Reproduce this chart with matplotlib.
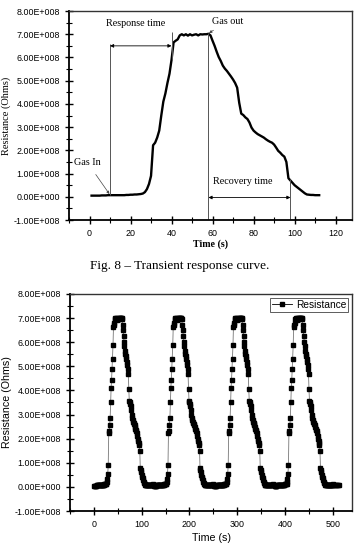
"""Transient response curve of the gas sensor (Fig. 8) and the repeated cycle plot below it."""
import matplotlib
matplotlib.use("Agg")
import matplotlib.pyplot as plt
import numpy as np
from matplotlib.ticker import MultipleLocator, FuncFormatter

# --- data (resistance in units of 1e8 Ohm) ---
TIME_S = list(range(1, 113))
RES_1E8 = [
    0.05, 0.05, 0.05, 0.05, 0.05, 0.06, 0.06, 0.06, 0.07,             # 1-9
    0.07, 0.07, 0.07, 0.07, 0.07, 0.07, 0.07, 0.07, 0.08, 0.08,       # 10-19
    0.09, 0.09, 0.10, 0.10, 0.11, 0.12, 0.14, 0.20, 0.33, 0.55,       # 20-29
    0.90, 2.22, 2.33, 2.55, 2.85, 3.50, 4.10, 4.45, 4.90, 5.30,       # 30-39
    5.90, 6.65, 6.72, 6.78, 6.95, 7.00, 6.95, 7.00, 6.94, 7.00,       # 40-49
    6.95, 6.98, 7.00, 6.95, 7.00, 6.99, 7.00, 7.00, 7.02, 6.95,       # 50-59
    6.72, 6.50, 6.25, 6.02, 5.85, 5.65, 5.52, 5.42, 5.30, 5.18,       # 60-69
    5.05, 4.90, 4.70, 4.05, 3.58, 3.52, 3.42, 3.35, 3.20, 2.98,       # 70-79
    2.85, 2.77, 2.70, 2.65, 2.60, 2.55, 2.48, 2.42, 2.37, 2.33,       # 80-89
    2.25, 2.12, 1.98, 1.90, 1.80, 1.73, 1.50, 0.80, 0.70, 0.60,       # 90-99
    0.50, 0.43, 0.36, 0.29, 0.22, 0.15, 0.10, 0.09, 0.08, 0.08,       # 100-109
    0.07, 0.07, 0.07,                                                 # 110-112
]
# baseline kept between cycles in the repeated run
TAIL_S = list(range(113, 125))
TAIL_1E8 = [0.06, 0.06, 0.06, 0.06, 0.06, 0.07, 0.07, 0.07, 0.08, 0.08, 0.09, 0.10]
CYCLE_START_S = [0, 125, 251, 377]
END_TAIL_S = [502, 504, 506, 508, 510, 512]
END_TAIL_1E8 = [0.06, 0.06, 0.06, 0.06, 0.06, 0.06]

GAS_IN_S, RESP_END_S, GAS_OUT_S, RECOV_END_S = 10, 40, 58, 98

SANS = ["Liberation Sans", "Arial", "DejaVu Sans"]
SERIF = ["Liberation Serif", "Times New Roman", "DejaVu Serif"]


def sci_fmt(v, _pos=None):
    if abs(v) < 1:
        return "0.00E+000"
    exp = int(np.floor(np.log10(abs(v))))
    mant = v / 10 ** exp
    return f"{mant:.2f}E+{exp:03d}"


def style_axes(ax, xmajor, xminor, tick_fs_x, tick_fs_y):
    ax.set_ylim(-1e8, 8e8)
    ax.yaxis.set_major_locator(MultipleLocator(1e8))
    ax.yaxis.set_minor_locator(MultipleLocator(0.5e8))
    ax.xaxis.set_major_locator(MultipleLocator(xmajor))
    ax.xaxis.set_minor_locator(MultipleLocator(xminor))
    ax.yaxis.set_major_formatter(FuncFormatter(sci_fmt))
    ax.tick_params(which="major", direction="inout", length=6, width=1.0, top=False, right=False)
    ax.tick_params(which="minor", direction="inout", length=4, width=0.8, top=False, right=False)
    for lab in ax.get_xticklabels():
        lab.set_family(SANS)
        lab.set_fontsize(tick_fs_x)
    for lab in ax.get_yticklabels():
        lab.set_family(SANS)
        lab.set_fontsize(tick_fs_y)
    for side in ["left", "bottom"]:
        ax.spines[side].set_linewidth(1.3)
    for side in ["top", "right"]:
        ax.spines[side].set_linewidth(1.0)
        ax.spines[side].set_color("#333333")


fig = plt.figure(figsize=(3.59, 5.43), dpi=100)

# ---------------- top: transient response ----------------
ax1 = fig.add_axes([0.1922, 0.5948, 0.7883, 0.3849])
t = np.array(TIME_S, dtype=float)
r = np.array(RES_1E8) * 1e8
ax1.plot(t, r, color="black", lw=1.7)
ax1.set_xlim(-10, 128)
style_axes(ax1, 20, 10, 6.4, 6.4)
ax1.set_xlabel("Time (s)", family=SERIF, fontsize=7.2, fontweight="bold", labelpad=1)
ax1.set_ylabel("Resistance (Ohms)", family=SERIF, fontsize=7.5, labelpad=2)

vcol, vlw = "#555555", 0.7
ax1.vlines(GAS_IN_S, 0.06e8, 6.6e8, color=vcol, lw=vlw)
ax1.vlines(RESP_END_S, 5.9e8, 7.1e8, color=vcol, lw=vlw)
ax1.vlines(GAS_OUT_S, -0.95e8, 7.05e8, color=vcol, lw=vlw)
ax1.vlines(RECOV_END_S, -0.95e8, 0.75e8, color=vcol, lw=vlw)

arrow = dict(arrowstyle="<|-|>", color="black", lw=0.6, mutation_scale=5, shrinkA=0, shrinkB=0)
ax1.annotate("", xy=(GAS_IN_S, 6.5e8), xytext=(RESP_END_S, 6.5e8), arrowprops=arrow)
ax1.annotate("", xy=(GAS_OUT_S, -0.03e8), xytext=(RECOV_END_S, -0.03e8), arrowprops=arrow)

txt = dict(family=SERIF, fontsize=7.3)
ax1.text(22.5, 7.47e8, "Response time", ha="center", va="center", **txt)
ax1.text(74.5, 0.68e8, "Recovery time", ha="center", va="center", **txt)
ax1.annotate("Gas In", xy=(9.7, 0.12e8), xytext=(-7.5, 1.47e8), ha="left", va="center",
             arrowprops=dict(arrowstyle="-|>", color="#444444", lw=0.5, mutation_scale=4,
                             shrinkA=4, shrinkB=0), **txt)
ax1.annotate("Gas out", xy=(58.3, 7.05e8), xytext=(59.5, 7.55e8), ha="left", va="center",
             arrowprops=dict(arrowstyle="-|>", color="#444444", lw=0.5, mutation_scale=4,
                             shrinkA=2, shrinkB=0), **txt)

fig.text(0.5, 0.510, "Fig. 8 \u2013 Transient response curve.", ha="center", va="center",
         family=SERIF, fontsize=9.5)

# ---------------- bottom: repeated cycles ----------------
ax2 = fig.add_axes([0.195, 0.0589, 0.7855, 0.3997])
cyc_t = np.array(TIME_S + TAIL_S, dtype=float)
cyc_r = np.array(RES_1E8 + TAIL_1E8) * 1e8
all_t = np.concatenate([cyc_t + s for s in CYCLE_START_S] + [np.array(END_TAIL_S, float)])
all_r = np.concatenate([cyc_r for _ in CYCLE_START_S] + [np.array(END_TAIL_1E8) * 1e8])
ax2.plot(all_t, all_r, color="#777777", lw=0.6, marker="s", ms=3.2,
         mfc="black", mec="black", label="Resistance")
ax2.set_xlim(-50, 540)
style_axes(ax2, 100, 50, 6.4, 6.4)
ax2.set_xlabel("Time (s)", family=SANS, fontsize=7.7, labelpad=3)
ax2.set_ylabel("Resistance (Ohms)", family=SANS, fontsize=7.7, labelpad=2)
leg = ax2.legend(loc="upper right", prop=dict(family=SANS, size=7.3), frameon=True,
                 fancybox=False, borderpad=0.2, handlelength=2.0, handletextpad=0.4,
                 borderaxespad=0.35, markerscale=1.0)
leg.get_frame().set_edgecolor("#333333")
leg.get_frame().set_linewidth(0.7)
for h in leg.get_lines():
    h.set_color("black")

fig.savefig("out.png", dpi=100)
